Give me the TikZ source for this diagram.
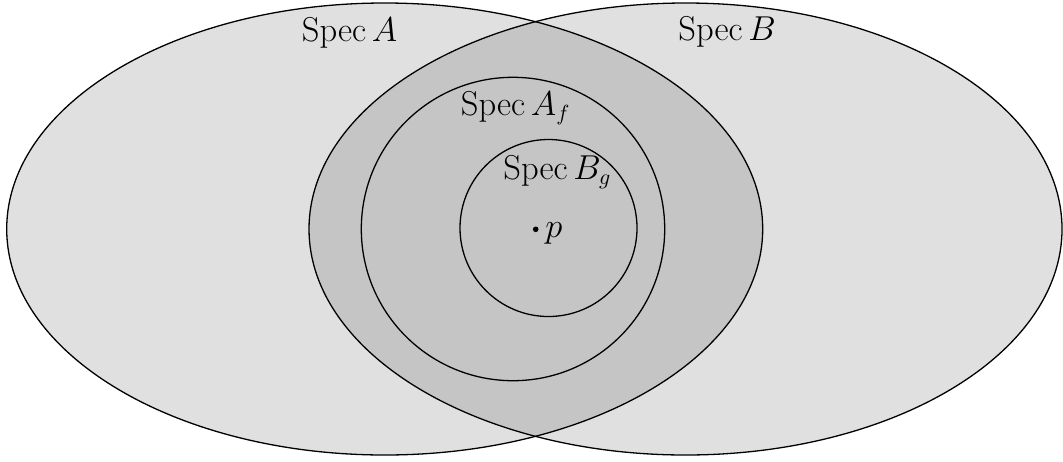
\documentclass[tikz,border=0pt]{standalone}
\usepackage{amsmath}
\tikzset{
  region/.style={draw=black, line width=0.65pt, fill=black, fill opacity=0.122},
  circ/.style={draw=black, line width=0.65pt},
  lab/.style={anchor=base west, inner sep=0pt, font=\fontsize{16.2}{19}\selectfont},
}
\begin{document}
\begin{tikzpicture}[x=0.5pt,y=-0.5pt]
\useasboundingbox (0,0) rectangle (1063,461);
\draw[region] (384.7,229) ellipse [x radius=378, y radius=226];
\draw[region] (685.5,229) ellipse [x radius=376.5, y radius=226];
\draw[circ] (513,229) circle [radius=151.7];
\draw[circ] (548.5,228) circle [radius=88.5];
\fill (535.7,229.3) circle [radius=2.8];
\node[lab] (sa) at (301.5,41) {$\operatorname{Spec} A$};
\node[lab] (sb) at (678,40) {$\operatorname{Spec} B$};
\node[lab] (saf) at (460.5,115) {$\operatorname{Spec} A_f$};
\node[lab] (sbg) at (503,179) {$\operatorname{Spec} B_g$};
\node[lab] (p) at (545,237) {$p$};
\end{tikzpicture}
\end{document}
